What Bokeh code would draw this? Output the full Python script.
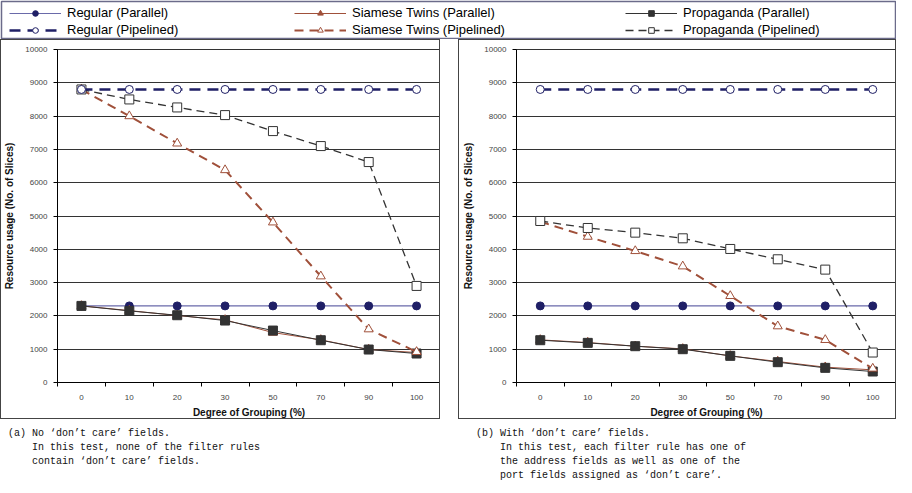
import numpy as np
from bokeh.plotting import figure
from bokeh.models import Range1d, FixedTicker, Legend, LegendItem, Div, Spacer
from bokeh.layouts import column, row
from bokeh.embed import file_html
from bokeh.resources import INLINE

# ---------------- data ----------------
categories = ["0", "10", "20", "30", "50", "70", "90", "100"]
y_ticks = [0, 1000, 2000, 3000, 4000, 5000, 6000, 7000, 8000, 9000, 10000]

# (a) No 'don't care' fields
reg_par_a = [2300, 2300, 2300, 2300, 2300, 2300, 2300, 2300]
reg_pip_a = [8800, 8800, 8800, 8800, 8800, 8800, 8800, 8800]
sia_par_a = [2300, 2160, 2010, 1880, 1500, 1280, 990, 900]
sia_pip_a = [8800, 8000, 7180, 6380, 4810, 3190, 1600, 920]
pro_par_a = [2300, 2150, 2020, 1860, 1560, 1270, 990, 870]
pro_pip_a = [8800, 8500, 8260, 8030, 7550, 7100, 6620, 2900]

# (b) With 'don't care' fields
reg_par_b = [2300, 2300, 2300, 2300, 2300, 2300, 2300, 2300]
reg_pip_b = [8800, 8800, 8800, 8800, 8800, 8800, 8800, 8800]
sia_par_b = [1280, 1200, 1090, 1010, 800, 630, 460, 380]
sia_pip_b = [4830, 4380, 3950, 3490, 2600, 1690, 1280, 420]
pro_par_b = [1270, 1190, 1090, 1000, 800, 610, 440, 330]
pro_pip_b = [4850, 4640, 4500, 4330, 4010, 3700, 3390, 900]

series_labels = ["Regular (Parallel)", "Regular (Pipelined)",
                 "Siamese Twins (Parallel)", "Siamese Twins (Pipelined)",
                 "Propaganda (Parallel)", "Propaganda (Pipelined)"]

x_label = "Degree of Grouping (%)"
y_label = "Resource usage (No. of Slices)"

caption_a = ("(a) No \u2018don\u2019t care\u2019 fields.\n"
             "    In this test, none of the filter rules\n"
             "    contain \u2018don\u2019t care\u2019 fields.")
caption_b = ("(b) With \u2018don\u2019t care\u2019 fields.\n"
             "    In this test, each filter rule has one of\n"
             "    the address fields as well as one of the\n"
             "    port fields assigned as \u2018don\u2019t care\u2019.")

# ---------------- styles ----------------
FONT = "Liberation Sans"
NAVY = "#1f1f66"
NAVY_LIGHT = "#6a6aaa"
BROWN = "#a0503a"
DARK = "#333333"

STYLES = [
    dict(lc=NAVY_LIGHT, lw=1.2, dash="solid", marker="circle", size=8, fill=NAVY, mlc=NAVY),
    dict(lc=NAVY, lw=2.5, dash="11 7", marker="circle", size=8, fill="white", mlc=NAVY),
    dict(lc=BROWN, lw=1.0, dash="solid", marker="triangle", size=9, fill=BROWN, mlc=BROWN),
    dict(lc=BROWN, lw=2.0, dash="9 6", marker="triangle", size=9, fill="white", mlc=BROWN),
    dict(lc=DARK, lw=1.0, dash="solid", marker="square", size=9, fill=DARK, mlc=DARK),
    dict(lc=DARK, lw=1.3, dash="8 5", marker="square", size=9, fill="white", mlc=DARK),
]


def add_series(p, xs, ys, st):
    rl = p.line(xs, ys, line_color=st["lc"], line_width=st["lw"], line_dash=st["dash"])
    rm = p.scatter(xs, ys, marker=st["marker"], size=st["size"], fill_color=st["fill"],
                   line_color=st["mlc"], line_width=1)
    return rl, rm


n = len(categories)
xs = list(np.arange(n) + 0.5)


def make_chart(width, left_border, series):
    p = figure(width=width, height=380, output_backend="svg", toolbar_location=None,
               x_range=Range1d(0, n), y_range=Range1d(0, 10000),
               min_border_left=left_border, min_border_right=1,
               min_border_top=9, min_border_bottom=34,
               background_fill_color="white", border_fill_color="white",
               outline_line_color=DARK, outline_line_width=1,
               styles={"border": "1px solid #444444", "box-sizing": "border-box"})
    # x axis
    p.xaxis.ticker = FixedTicker(ticks=xs, minor_ticks=list(range(0, n + 1)))
    p.xaxis.major_label_overrides = {float(x): c for x, c in zip(xs, categories)}
    p.xaxis.major_tick_line_color = None
    p.xaxis.major_tick_out = 0
    p.xaxis.major_tick_in = 0
    p.xaxis.minor_tick_line_color = "black"
    p.xaxis.minor_tick_out = 4
    p.xaxis.minor_tick_in = 0
    p.xaxis.axis_label = x_label
    p.xaxis.major_label_standoff = 8
    p.xaxis.axis_label_standoff = 4
    # y axis
    p.yaxis.ticker = FixedTicker(ticks=y_ticks)
    p.yaxis.major_tick_out = 4
    p.yaxis.major_tick_in = 0
    p.yaxis.minor_tick_line_color = None
    p.yaxis.major_tick_line_color = "black"
    p.yaxis.axis_label = y_label
    p.yaxis.major_label_standoff = 6
    p.yaxis.axis_label_standoff = 7
    for ax in (p.xaxis, p.yaxis):
        ax.axis_line_color = "black"
        ax.major_label_text_font = FONT
        ax.major_label_text_font_size = "8px"
        ax.major_label_text_color = "#444444"
        ax.axis_label_text_font = FONT
        ax.axis_label_text_font_size = "10px"
        ax.axis_label_text_font_style = "bold"
        ax.axis_label_text_color = "#111111"
    p.xgrid.visible = False
    p.ygrid.ticker = FixedTicker(ticks=y_ticks)
    p.ygrid.grid_line_color = "#333333"
    p.ygrid.grid_line_width = 1
    order = [0, 2, 4, 3, 5, 1]
    for i in order:
        add_series(p, xs, series[i], STYLES[i])
    return p


series_a = [reg_par_a, reg_pip_a, sia_par_a, sia_pip_a, pro_par_a, pro_pip_a]
series_b = [reg_par_b, reg_pip_b, sia_par_b, sia_pip_b, pro_par_b, pro_pip_b]
left = make_chart(440, 55, series_a)
right = make_chart(438, 57, series_b)

# ---------------- legend strip ----------------
# series are drawn here too, but the y range lies far outside the data, so only
# the legend entries are visible
leg = figure(width=896, height=39, output_backend="svg", toolbar_location=None,
             x_range=Range1d(0, n), y_range=Range1d(-3000, -2000),
             x_axis_type=None, y_axis_type=None, min_border=1,
             background_fill_color="white", border_fill_color="white",
             outline_line_color="#6b6b8a", outline_line_width=1.5)
leg.grid.visible = False
items = []
for i, lab in enumerate(series_labels):
    rl, rm = add_series(leg, xs, series_a[i], STYLES[i])
    items.append(LegendItem(label=lab, renderers=[rl, rm]))

for k, xpos in enumerate([8, 293, 624]):
    lg = Legend(items=items[2 * k:2 * k + 2], location=(xpos, 1), orientation="vertical",
                glyph_width=52, glyph_height=14, label_height=14, spacing=2,
                padding=0, margin=0, border_line_color=None, background_fill_alpha=0,
                label_text_font=FONT, label_text_font_size="13px", label_standoff=6,
                label_text_color="black")
    leg.add_layout(lg)

# ---------------- captions ----------------
cap_style = {"font-family": "'Liberation Mono', monospace", "font-size": "10px",
             "white-space": "pre", "line-height": "14px", "padding-top": "3px",
             "padding-left": "3px", "color": "#111111"}
cap_a = Div(text=caption_a, width=458, height=58, styles=cap_style)
cap_b = Div(text=caption_b, width=438, height=58, styles=cap_style)

layout = column(leg,
                row(left, Spacer(width=18, height=380), right),
                row(cap_a, cap_b))

open("out.html", "w").write(file_html(layout, INLINE))
